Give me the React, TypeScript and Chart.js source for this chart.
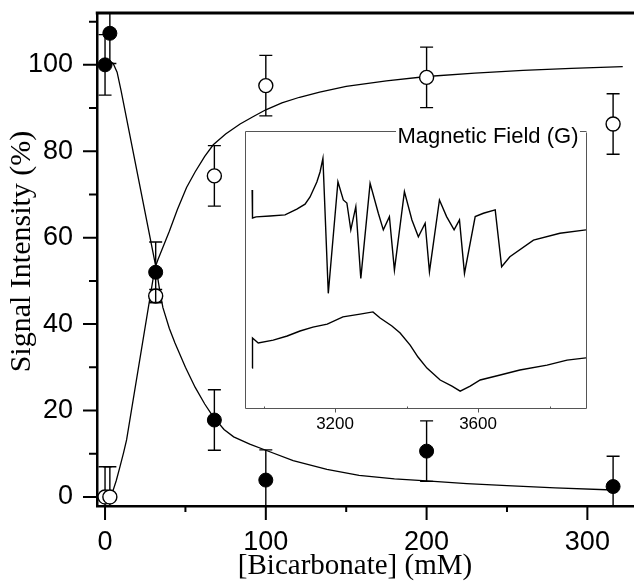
import React, { useEffect, useRef } from "react";
import { Chart, registerables } from "chart.js";
Chart.register(...registerables);

const SANS = '"Liberation Sans", Arial, sans-serif';
const SERIF = '"Liberation Serif", "Times New Roman", serif';

// Main plot data
const closedX = [0, 3, 31.5, 68, 100, 200, 316];
const closedY = [100, 107.3, 52, 17.8, 3.9, 10.6, 2.4];
const closedErr = [7, 7, 7, 7, 7, 7, 7];

const openX = [0, 3, 31.5, 68, 100, 200, 316];
const openY = [0, 0, 46.5, 74.3, 95.2, 97.1, 86.3];
const openErr = [7, 7, 1.5, 7, 7, 7, 7];

const decayFitX = [0, 3, 5, 7.5, 10, 32, 34, 36, 40, 43.5, 50, 56, 62, 67, 74, 80, 90, 100, 117, 138, 158, 180, 200, 225, 250, 280, 316];
const decayFitY = [100.5, 100.8, 100.4, 98.3, 94, 52.5, 47.8, 43.8, 39, 35.6, 30, 25.4, 21.5, 18.7, 15.6, 13.9, 12.2, 10.8, 8.4, 6.4, 5, 4.2, 3.7, 3.1, 2.6, 2.1, 1.6];

const riseFitX = [0, 2, 5, 7, 9.3, 11.5, 13.4, 31, 33, 36, 40, 45, 50.7, 56, 62, 67.3, 75, 84, 92, 100, 110, 121, 133.5, 150, 175, 200, 230, 260, 290, 322];
const riseFitY = [0, 0.1, 1.5, 3.8, 7, 10.2, 13.2, 53, 55, 57.8, 61.5, 66.5, 71.6, 75.2, 78.8, 81.5, 84, 86.3, 88, 89.6, 91.2, 92.5, 93.7, 95, 96.3, 97.3, 98.1, 98.7, 99.2, 99.6];

const xTicks = [0, 50, 100, 150, 200, 250, 300];
const xLabelled = [0, 100, 200, 300];
const yTicks = [0, 10, 20, 30, 40, 50, 60, 70, 80, 90, 100, 110];
const yLabelled = [0, 20, 40, 60, 80, 100];

const xTitle = "[Bicarbonate] (mM)";
const yTitle = "Signal Intensity (%)";

// Inset (EPR spectra)
const insetTitle = "Magnetic Field (G)";
const fieldTicks = [3200, 3600];
const fieldMinorTicks = [3000, 3400, 3800];
const traceAField = [2968, 2969, 2979, 3018, 3060, 3093, 3116, 3130, 3149, 3158, 3166, 3181, 3208, 3223, 3233, 3244, 3258, 3272, 3298, 3321, 3335, 3352, 3366, 3394, 3415, 3433, 3452, 3464, 3492, 3512, 3533, 3548, 3562, 3592, 3615, 3648, 3666, 3689, 3755, 3829, 3902];
const traceAValue = [78.7, 68.6, 69.0, 69.3, 69.7, 71.8, 73.6, 76.2, 81.6, 85.2, 90.1, 41.4, 81.7, 75.1, 74.0, 64.3, 72.7, 46.8, 81.1, 70.3, 64.3, 69.1, 49.8, 78.1, 67.9, 61.8, 66.7, 49.2, 75.1, 69.1, 64.3, 67.9, 48.6, 69.1, 70.3, 71.5, 51.0, 54.6, 60.6, 63.1, 64.3];
const traceBField = [2968, 2969, 2985, 3027, 3066, 3102, 3138, 3178, 3222, 3270, 3306, 3326, 3359, 3382, 3410, 3432, 3457, 3494, 3527, 3550, 3578, 3606, 3662, 3717, 3793, 3849, 3902];
const traceBValue = [14.4, 25.3, 23.5, 24.5, 26.0, 27.8, 29.2, 30.3, 32.9, 33.9, 34.7, 32.5, 29.6, 27.1, 22.7, 18.4, 14.4, 10.1, 7.9, 6.1, 7.9, 10.1, 11.9, 13.7, 15.5, 17.3, 18.1];

const pts = (xs: number[], ys: number[]) => xs.map((x, i) => ({ x, y: ys[i] }));

const errorBars = {
  id: "errorBars",
  beforeDatasetDraw(chart: any, args: any) {
    const ds: any = chart.data.datasets[args.index];
    const errs: number[] | undefined = ds.errors;
    if (!errs) return;
    const { ctx, chartArea: a } = chart;
    const xs = chart.scales.x;
    const ys = chart.scales.y;
    ctx.save();
    ctx.beginPath();
    ctx.rect(a.left, a.top, a.right - a.left, a.bottom - a.top);
    ctx.clip();
    ctx.strokeStyle = "#000";
    ctx.lineWidth = 1.4;
    ds.data.forEach((p: any, i: number) => {
      const px = xs.getPixelForValue(p.x);
      const y1 = ys.getPixelForValue(p.y + errs[i]);
      const y2 = ys.getPixelForValue(p.y - errs[i]);
      ctx.beginPath();
      ctx.moveTo(px, y1);
      ctx.lineTo(px, y2);
      ctx.moveTo(px - 6.5, y1);
      ctx.lineTo(px + 6.5, y1);
      ctx.moveTo(px - 6.5, y2);
      ctx.lineTo(px + 6.5, y2);
      ctx.stroke();
    });
    ctx.restore();
  },
};

const mainDeco = {
  id: "mainDeco",
  afterDraw(chart: any) {
    const { ctx, chartArea: a } = chart;
    const x = chart.scales.x;
    const y = chart.scales.y;
    ctx.save();
    ctx.strokeStyle = "#000";
    ctx.lineWidth = 3;
    ctx.beginPath();
    ctx.moveTo(a.left - 1.25, a.top);
    ctx.lineTo(a.right, a.top);
    ctx.stroke();
    ctx.lineWidth = 2;
    ctx.beginPath();
    y.ticks.forEach((t: any) => {
      const py = y.getPixelForValue(t.value);
      const len = yLabelled.includes(t.value) ? 14 : 8;
      ctx.moveTo(a.left - len, py);
      ctx.lineTo(a.left, py);
    });
    x.ticks.forEach((t: any) => {
      const px = x.getPixelForValue(t.value);
      const len = xLabelled.includes(t.value) ? 14 : 6;
      ctx.moveTo(px, a.bottom);
      ctx.lineTo(px, a.bottom + len);
    });
    ctx.stroke();
    ctx.fillStyle = "#000";
    ctx.textAlign = "center";
    ctx.textBaseline = "middle";
    ctx.font = `29px ${SERIF}`;
    ctx.fillText(xTitle, 355, 566);
    ctx.translate(22, 251.5);
    ctx.rotate(-Math.PI / 2);
    ctx.font = `30px ${SERIF}`;
    ctx.fillText(yTitle, 0, 0);
    ctx.restore();
  },
};

const insetDeco = {
  id: "insetDeco",
  afterDraw(chart: any) {
    const { ctx, chartArea: a } = chart;
    const x = chart.scales.x;
    ctx.save();
    ctx.strokeStyle = "#555";
    ctx.lineWidth = 1;
    const L = Math.round(a.left) + 0.5;
    const R = Math.round(a.right) + 0.5;
    const T = Math.round(a.top) + 0.5;
    const B = Math.round(a.bottom) + 0.5;
    ctx.beginPath();
    ctx.moveTo(L, T);
    ctx.lineTo(L, B);
    ctx.lineTo(R, B);
    ctx.lineTo(R, T + 1);
    ctx.stroke();
    ctx.font = `22px ${SANS}`;
    const w = ctx.measureText(insetTitle).width;
    const cx = 253;
    const tl = cx - w / 2;
    ctx.beginPath();
    ctx.moveTo(L, T);
    ctx.lineTo(tl - 1.5, T);
    ctx.moveTo(tl + w + 1.5, T);
    ctx.lineTo(R, T);
    ctx.stroke();
    ctx.beginPath();
    fieldTicks.forEach((v) => {
      const px = Math.round(x.getPixelForValue(v)) + 0.5;
      ctx.moveTo(px, B);
      ctx.lineTo(px, B + 4);
    });
    fieldMinorTicks.forEach((v) => {
      const px = Math.round(x.getPixelForValue(v)) + 0.5;
      ctx.moveTo(px, B);
      ctx.lineTo(px, B - 2);
    });
    ctx.stroke();
    ctx.fillStyle = "#000";
    ctx.textAlign = "left";
    ctx.textBaseline = "alphabetic";
    ctx.fillText(insetTitle, tl, 28);
    ctx.restore();
  },
};

export default function App() {
  const mainRef = useRef<HTMLCanvasElement>(null);
  const insetRef = useRef<HTMLCanvasElement>(null);

  useEffect(() => {
    const main = new Chart(mainRef.current as HTMLCanvasElement, {
      type: "scatter",
      data: {
        datasets: [
          {
            data: pts(closedX, closedY),
            errors: closedErr,
            order: 0,
            pointRadius: 7,
            pointStyle: "circle",
            backgroundColor: "#000",
            borderColor: "#000",
            borderWidth: 1,
            clip: false,
          } as any,
          {
            data: pts(openX, openY),
            errors: openErr,
            order: 1,
            pointRadius: 7,
            pointStyle: "circle",
            backgroundColor: "#fff",
            borderColor: "#000",
            borderWidth: 1.4,
            clip: false,
          } as any,
          {
            data: pts(decayFitX, decayFitY),
            order: 2,
            showLine: true,
            pointRadius: 0,
            borderColor: "#000",
            borderWidth: 1.3,
            tension: 0,
            fill: false,
          } as any,
          {
            data: pts(riseFitX, riseFitY),
            order: 3,
            showLine: true,
            pointRadius: 0,
            borderColor: "#000",
            borderWidth: 1.3,
            tension: 0,
            fill: false,
          } as any,
        ],
      },
      options: {
        responsive: false,
        animation: false,
        devicePixelRatio: 1,
        events: [],
        layout: { autoPadding: false, padding: { top: 13, left: 0, right: 0, bottom: 0 } },
        plugins: { legend: { display: false }, tooltip: { enabled: false } },
        scales: {
          x: {
            type: "linear",
            min: -5,
            max: 329,
            afterBuildTicks: (s: any) => {
              s.ticks = xTicks.map((v) => ({ value: v }));
            },
            afterFit: (s: any) => {
              s.height = 81;
              s.paddingLeft = 0;
              s.paddingRight = 0;
            },
            grid: { display: false, drawTicks: false },
            border: { display: true, color: "#000", width: 2.5 },
            ticks: {
              autoSkip: false,
              maxRotation: 0,
              padding: 20,
              color: "#000",
              font: { family: SANS, size: 27 },
              callback: (v: any) => (xLabelled.includes(Number(v)) ? String(v) : ""),
            },
          },
          y: {
            type: "linear",
            min: -2.1,
            max: 112,
            afterBuildTicks: (s: any) => {
              s.ticks = yTicks.map((v) => ({ value: v }));
            },
            afterFit: (s: any) => {
              s.width = 97;
              s.paddingTop = 0;
              s.paddingBottom = 0;
            },
            grid: { display: false, drawTicks: false },
            border: { display: true, color: "#000", width: 2.5 },
            ticks: {
              autoSkip: false,
              padding: 24,
              color: "#000",
              font: { family: SANS, size: 27 },
              callback: (v: any) => (yLabelled.includes(Number(v)) ? String(v) : ""),
            },
          },
        },
      } as any,
      plugins: [errorBars, mainDeco],
    });

    const inset = new Chart(insetRef.current as HTMLCanvasElement, {
      type: "scatter",
      data: {
        datasets: [
          {
            data: pts(traceAField, traceAValue),
            showLine: true,
            pointRadius: 0,
            borderColor: "#000",
            borderWidth: 1.4,
            tension: 0,
          } as any,
          {
            data: pts(traceBField, traceBValue),
            showLine: true,
            pointRadius: 0,
            borderColor: "#000",
            borderWidth: 1.4,
            tension: 0,
          } as any,
        ],
      },
      options: {
        responsive: false,
        animation: false,
        devicePixelRatio: 1,
        events: [],
        layout: { autoPadding: false, padding: { top: 16, left: 10, right: 14, bottom: 0 } },
        plugins: { legend: { display: false }, tooltip: { enabled: false } },
        scales: {
          x: {
            type: "linear",
            min: 2948,
            max: 3902,
            afterBuildTicks: (s: any) => {
              s.ticks = fieldTicks.map((v) => ({ value: v }));
            },
            afterFit: (s: any) => {
              s.height = 37;
              s.paddingLeft = 0;
              s.paddingRight = 0;
            },
            grid: { display: false, drawTicks: false },
            border: { display: false },
            ticks: {
              autoSkip: false,
              maxRotation: 0,
              padding: 6,
              color: "#000",
              font: { family: SANS, size: 17 },
              callback: (v: any) => String(v),
            },
          },
          y: { type: "linear", display: false, min: 0, max: 100 },
        },
      } as any,
      plugins: [insetDeco],
    });

    return () => {
      main.destroy();
      inset.destroy();
    };
  }, []);

  return (
    <div style={{ position: "fixed", left: 0, top: 0, width: 634, height: 587, background: "#fff", overflow: "hidden" }}>
      <canvas ref={mainRef} width={634} height={587} style={{ position: "absolute", left: 0, top: 0, width: 634, height: 587 }} />
      <canvas ref={insetRef} width={365} height={330} style={{ position: "absolute", left: 235, top: 115, width: 365, height: 330 }} />
    </div>
  );
}
